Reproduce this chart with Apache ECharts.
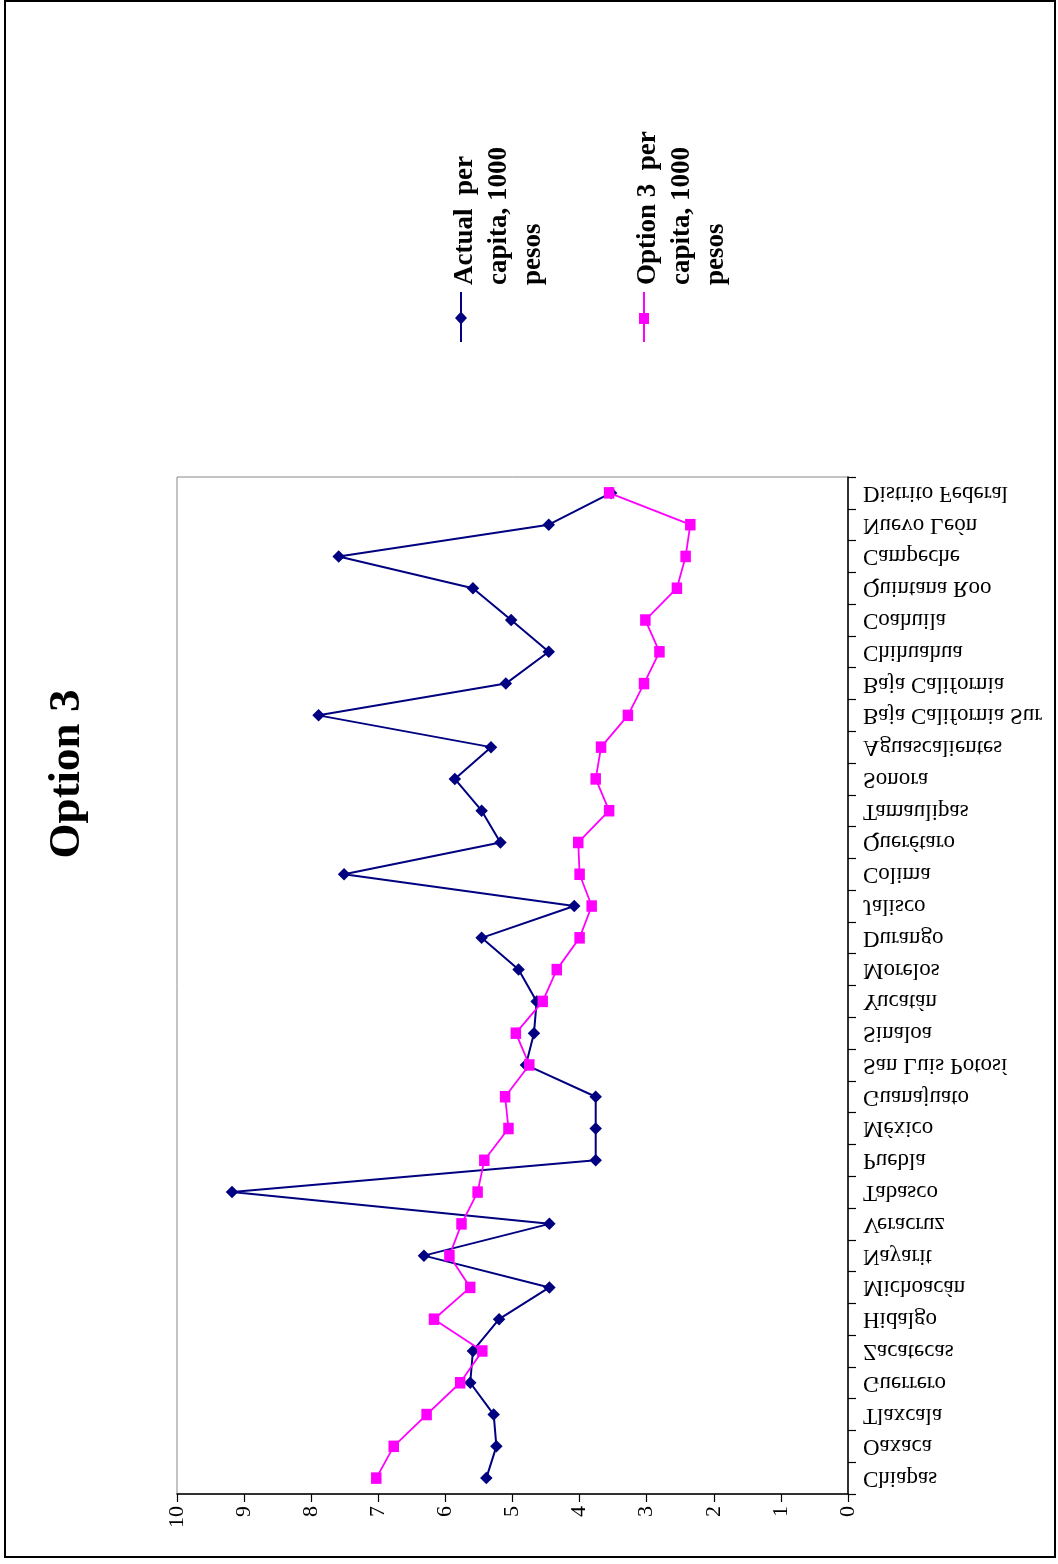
<!DOCTYPE html>
<html>
<head>
<meta charset="utf-8">
<title>Option 3</title>
<script src="https://cdn.jsdelivr.net/npm/echarts@6/dist/echarts.min.js"></script>
<style>
  html, body { margin: 0; padding: 0; background: #fff; }
  #chart { width: 1058px; height: 1564px; }
</style>
</head>
<body>
<div id="chart"></div>
<script>
// States, ordered from the bottom of the category axis to the top
const categories = [
  'Chiapas', 'Oaxaca', 'Tlaxcala', 'Guerrero', 'Zacatecas', 'Hidalgo',
  'Michoacán', 'Nayarit', 'Veracruz', 'Tabasco', 'Puebla', 'México',
  'Guanajuato', 'San Luis Potosí', 'Sinaloa', 'Yucatán', 'Morelos',
  'Durango', 'Jalisco', 'Colima', 'Querétaro', 'Tamaulipas', 'Sonora',
  'Aguascalientes', 'Baja California Sur', 'Baja California', 'Chihuahua',
  'Coahuila', 'Quintana Roo', 'Campeche', 'Nuevo León', 'Distrito Federal'
];

// Actual per capita, thousands of pesos
const actualPerCapita = [
  5.39, 5.24, 5.28, 5.63, 5.59, 5.20,
  4.45, 6.32, 4.45, 9.18, 3.76, 3.76,
  3.76, 4.80, 4.68, 4.64, 4.91,
  5.46, 4.08, 7.51, 5.18, 5.46, 5.86,
  5.32, 7.89, 5.10, 4.46,
  5.02, 5.59, 7.59, 4.46, 3.53
];

// Option 3 per capita, thousands of pesos
const option3PerCapita = [
  7.03, 6.77, 6.28, 5.78, 5.45, 6.17,
  5.63, 5.94, 5.76, 5.52, 5.42, 5.06,
  5.11, 4.75, 4.95, 4.55, 4.34,
  4.00, 3.82, 4.00, 4.02, 3.56, 3.76,
  3.68, 3.28, 3.04, 2.81,
  3.02, 2.55, 2.42, 2.35, 3.56
];

// Value axis range and step
const valueMin = 0;
const valueMax = 10;
const valueStep = 1;

const chartTitle = 'Option 3';
const legendLines = [
  ['Actual  per', 'capita, 1000', 'pesos'],
  ['Option 3  per', 'capita, 1000', 'pesos']
];
const seriesNames = legendLines.map(l => l.join(' '));

const SERIF = "'Liberation Serif', 'Times New Roman', serif";
const NAVY = '#000080';
const MAGENTA = '#FF00FF';

const chart = echarts.init(document.getElementById('chart'), null, { renderer: 'canvas' });

// Legend entry: vertical line with marker, plus text reading bottom-to-top
function legendEntry(x, lines, color, markerShape) {
  const marker = markerShape === 'diamond'
    ? { type: 'polygon', shape: { points: [[x, 311.5], [x + 6, 318], [x, 324.5], [x - 6, 318]] }, style: { fill: color } }
    : { type: 'rect', shape: { x: x - 5, y: 313, width: 10, height: 11 }, style: { fill: color } };
  return [
    { type: 'line', shape: { x1: x, y1: 292, x2: x, y2: 342 }, style: { stroke: color, lineWidth: 2 } },
    marker,
    {
      type: 'text', x: x - 13, y: 285, rotation: Math.PI / 2,
      style: {
        text: lines.join('\n'), font: 'bold 27px ' + SERIF, fill: '#000',
        align: 'left', verticalAlign: 'top', lineHeight: 34
      }
    }
  ];
}

const option = {
  backgroundColor: '#fff',
  animation: false,
  grid: {
    left: 177, right: 210, top: 477, bottom: 70,
    show: true, borderColor: '#888', borderWidth: 1, backgroundColor: 'transparent'
  },
  xAxis: {
    type: 'value', min: valueMin, max: valueMax, interval: valueStep,
    inverse: true, position: 'bottom',
    axisLine: { show: true, lineStyle: { color: '#000', width: 1.5 } },
    axisTick: { show: true, length: 8, lineStyle: { color: '#000', width: 1.2 } },
    splitLine: { show: false },
    axisLabel: {
      rotate: 90, margin: 12, color: '#000', fontFamily: SERIF, fontSize: 22
    }
  },
  yAxis: {
    type: 'category', data: categories, position: 'right', boundaryGap: true,
    axisLine: { show: true, onZero: false, lineStyle: { color: '#000', width: 1.5 } },
    axisTick: { show: true, length: 8, interval: 0, lineStyle: { color: '#000', width: 1.2 } },
    axisLabel: { show: false },
    splitLine: { show: false }
  },
  series: [
    {
      name: seriesNames[0], type: 'line',
      data: actualPerCapita.map((v, i) => [v, categories[i]]),
      symbol: 'diamond', symbolSize: 12.5,
      lineStyle: { color: NAVY, width: 2 },
      itemStyle: { color: NAVY },
      z: 3
    },
    {
      name: seriesNames[1], type: 'line',
      data: option3PerCapita.map((v, i) => [v, categories[i]]),
      symbol: 'rect', symbolSize: [10.5, 11.5],
      lineStyle: { color: MAGENTA, width: 1.8 },
      itemStyle: { color: MAGENTA },
      z: 4
    },
    {
      // Category names, placed by the category axis and drawn mirrored
      type: 'custom', coordinateSystem: 'cartesian2d', clip: false, silent: true,
      data: categories.map((c, i) => [valueMin, i]),
      renderItem: function (params, api) {
        const p = api.coord([api.value(0), api.value(1)]);
        return {
          type: 'text', x: p[0] + 15, y: p[1], scaleY: -1,
          style: {
            text: categories[params.dataIndex], font: '23px ' + SERIF,
            fill: '#000', align: 'left', verticalAlign: 'middle'
          }
        };
      },
      z: 5
    }
  ],
  graphic: [
    {
      type: 'rect', shape: { x: 5, y: 1, width: 1050, height: 1556 },
      style: { fill: 'none', stroke: '#000', lineWidth: 2 }, silent: true
    },
    {
      type: 'text', x: 67, y: 774, rotation: Math.PI / 2,
      style: { text: chartTitle, font: 'bold 45px ' + SERIF, fill: '#000', align: 'center', verticalAlign: 'middle' }
    },
    ...legendEntry(461, legendLines[0], NAVY, 'diamond'),
    ...legendEntry(644, legendLines[1], MAGENTA, 'square')
  ]
};

chart.setOption(option);
</script>
</body>
</html>
